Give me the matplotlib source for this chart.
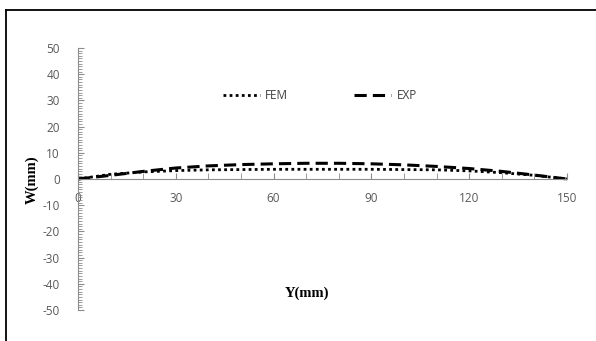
import matplotlib
matplotlib.use("Agg")
import matplotlib.pyplot as plt
from matplotlib.lines import Line2D
from matplotlib.ticker import MultipleLocator

plt.rcParams["axes.unicode_minus"] = False

# Span positions (mm) and deflections (mm)
y_pos = [0, 10, 20, 30, 40, 50, 60, 70, 80, 90, 100, 110, 120, 130, 140, 150]
w_fem = [0, 1.8, 2.7, 3.2, 3.5, 3.6, 3.7, 3.7, 3.7, 3.7, 3.6, 3.5, 3.1, 2.4, 1.4, 0]
w_exp = [0, 1.4, 2.9, 4.2, 5.0, 5.5, 5.8, 6.0, 6.0, 5.8, 5.4, 4.8, 4.0, 2.9, 1.5, 0]

x_ticks = [0, 30, 60, 90, 120, 150]
y_ticks = [50, 40, 30, 20, 10, 0, -10, -20, -30, -40, -50]

fig = plt.figure(figsize=(5.96, 3.41), dpi=100)
fig.patch.set_facecolor("white")

# outer frame (top and left edges)
top_y = 1 - 9.5 / 341
left_x = 5.5 / 596
fig.add_artist(Line2D([left_x, 1.0], [top_y, top_y], transform=fig.transFigure,
                      color="black", linewidth=1.3))
fig.add_artist(Line2D([left_x, left_x], [0.0, top_y], transform=fig.transFigure,
                      color="black", linewidth=1.3))

ax = fig.add_axes([78 / 596, 1 - 310 / 341, 489 / 596, 262 / 341])
ax.set_xlim(0, 150)
ax.set_ylim(-50, 50)

ax.plot(y_pos, w_fem, color="black", linestyle=(0, (1, 1.2)), linewidth=2.0, label="FEM")
ax.plot(y_pos, w_exp, color="black", linestyle=(0, (4, 2)), linewidth=2.2, label="EXP")

axis_color = "#8c8c8c"
for side in ("top", "right"):
    ax.spines[side].set_visible(False)
ax.spines["left"].set_position(("data", 0))
ax.spines["bottom"].set_position(("data", 0))
ax.spines["left"].set_color(axis_color)
ax.spines["bottom"].set_color(axis_color)

ax.set_yticks(y_ticks)
ax.yaxis.set_minor_locator(MultipleLocator(1))
ax.set_xticks(x_ticks)
ax.xaxis.set_minor_locator(MultipleLocator(10))
ax.tick_params(axis="y", which="both", direction="in", color=axis_color,
               labelsize=8.5, labelcolor="#595959", pad=13)
ax.tick_params(axis="y", which="major", length=4)
ax.tick_params(axis="y", which="minor", length=3)
ax.tick_params(axis="x", which="both", direction="in", color=axis_color,
               labelsize=8.5, labelcolor="#595959", length=4, pad=9)
for lbl in ax.get_xticklabels() + ax.get_yticklabels():
    lbl.set_fontfamily("Open Sans")

ax.legend(loc="center", bbox_to_anchor=(0.495, 0.82), ncol=2, frameon=False,
          handlelength=3.1, handletextpad=0.45, columnspacing=5.6,
          labelcolor="#404040", prop={"family": "Open Sans", "size": 8.5})

fig.text(32 / 596, 1 - 180 / 341, "W(mm)", rotation=90, ha="center", va="center",
         family="Liberation Serif", fontweight="bold", fontsize=10.5)
fig.text(307 / 596, 1 - 293 / 341, "Y(mm)", ha="center", va="center",
         family="Liberation Serif", fontweight="bold", fontsize=10.5)

fig.savefig("out.png", dpi=100)
